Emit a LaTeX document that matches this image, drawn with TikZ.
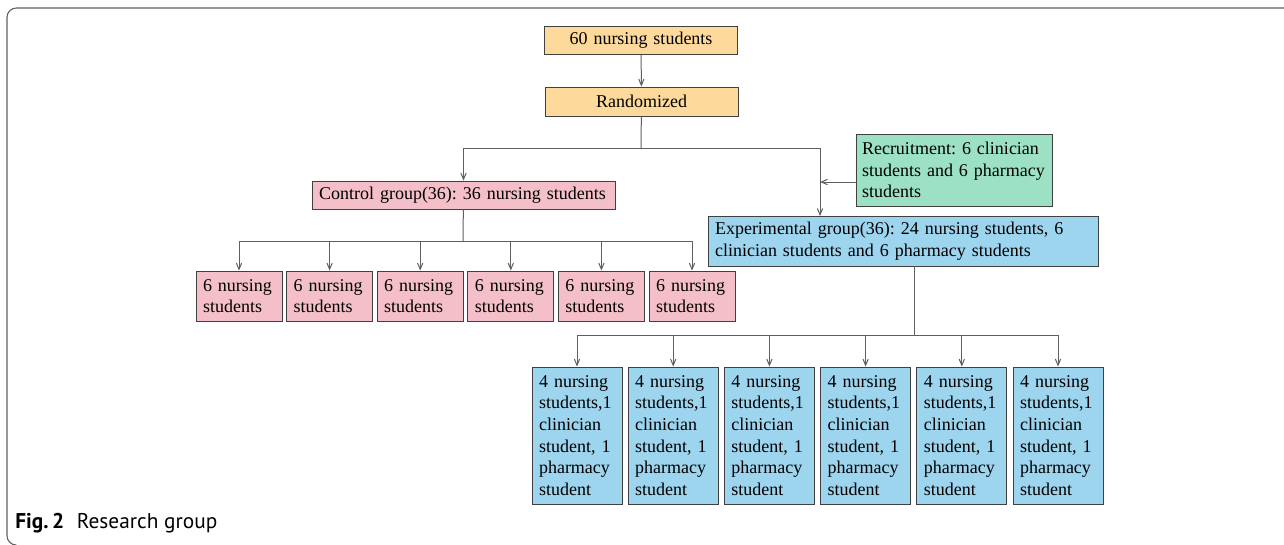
\documentclass[tikz,border=0pt]{standalone}
\usepackage{fontspec}
\setmainfont{Liberation Serif}
\newfontfamily\capfont{PT Sans}
\usetikzlibrary{arrows}
\definecolor{O}{RGB}{253, 217, 155}
\definecolor{P}{RGB}{245, 191, 201}
\definecolor{G}{RGB}{157, 225, 196}
\definecolor{B}{RGB}{157, 212, 238}
\definecolor{L}{RGB}{95, 95, 95}
\newdimen\pxu \pxu=0.75pt
\frenchspacing
\hyphenpenalty=10000
\tikzset{
  caja/.style={draw=black!75, line width=0.7pt, inner sep=0pt, align=left,
    font=\fontsize{13.5}{16.3}\selectfont},
  linea/.style={draw=L, line width=0.75pt},
  flecha/.style={linea, ->, >=angle 45}
}

\begin{document}
\begin{tikzpicture}[x=0.75pt, y=-0.75pt]
   	\useasboundingbox (0,0) rectangle (1284,544);
   	% Marco
   	\draw[L, line width=0.8pt, rounded corners=7] (1290,8) -- (7,8) -- (7,545) -- (14,545);
   	\node[anchor=base west, inner sep=0pt, font=\capfont\fontsize{16}{18}\selectfont] (cap) at (15,528) {\textbf{Fig.\,2}\hspace{0.6em}Research group};

	% Nodos de arriba
   	\node[caja, fill=O, minimum width=193\pxu, minimum height=28\pxu, text width=193\pxu, align=center] (todos) at (641,40.5) {60 nursing students};
   	\node[caja, fill=O, minimum width=193\pxu, minimum height=29\pxu, text width=193\pxu, align=center] (rand) at (641.5,101.5) {Randomized};

	% Grupos
   	\node[caja, fill=P, minimum width=303\pxu, minimum height=28\pxu, text width=289\pxu] (control) at (463.5,195) {Control group(36): 36 nursing students};
   	\node[caja, fill=G, minimum width=196\pxu, minimum height=72\pxu, text width=184\pxu] (recruit) at (954,170) {Recruitment: 6 clinician\\students and 6 pharmacy\\students};
   	\node[caja, fill=B, minimum width=390\pxu, minimum height=50\pxu, text width=376\pxu] (exper) at (903,241) {Experimental group(36): 24 nursing students, 6\\clinician students and 6 pharmacy students};

	% Subgrupos
   	\foreach \i in {1,...,6} {
   		\node[caja, fill=P, minimum width=86\pxu, minimum height=50\pxu, text width=72\pxu] (p\i) at ({239+90.6*(\i-1)},296) {6 nursing\\students};
   		\node[caja, fill=B, minimum width=90\pxu, minimum height=137\pxu, text width=76\pxu] (b\i) at ({577+96.2*(\i-1)},435.5) {4 nursing\\students,1\\clinician\\student, 1\\pharmacy\\student};
   	}

	% Conectores
   	\coordinate (hub) at (641,148);
   	\coordinate (expin) at (820,216);
   	\coordinate (recin) at (820,182);
   	\coordinate (cbar) at (463,241);
   	\coordinate (ebar) at (914,335);
   	\draw[flecha] (todos) -- (rand);
   	\draw[linea] (rand) -- (hub);
   	\draw[flecha] (hub) -| (control);
   	\draw[flecha] (hub) -| (expin);
   	\draw[flecha] (recruit.west |- recin) -- (recin);
   	\draw[linea] (control) -- (cbar);
   	\draw[linea] (p1.north |- cbar) -- (p6.north |- cbar);
   	\draw[linea] (exper.south -| ebar) -- (ebar);
   	\draw[linea] (b1.north |- ebar) -- (b6.north |- ebar);
   	\foreach \i in {1,...,6} {
   		\draw[flecha] (p\i.north |- cbar) -- (p\i);
   		\draw[flecha] (b\i.north |- ebar) -- (b\i);
   	}
\end{tikzpicture}
\end{document}
